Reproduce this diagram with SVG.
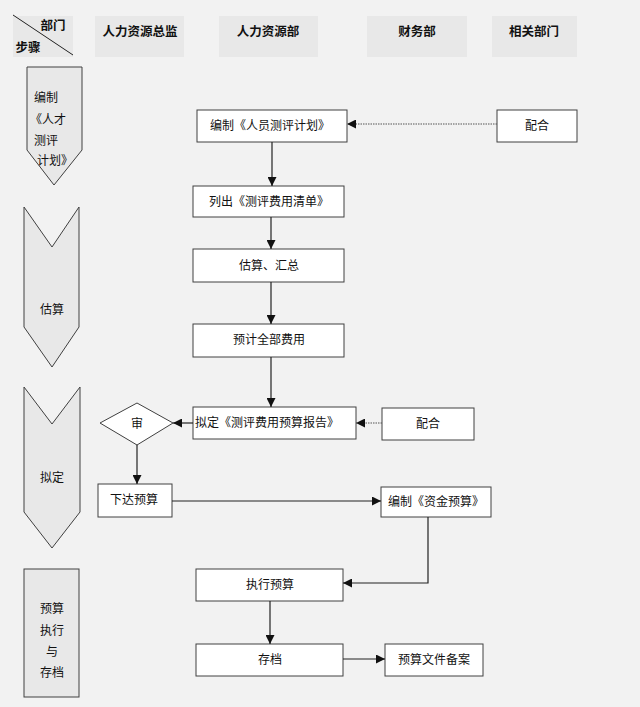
<svg xmlns="http://www.w3.org/2000/svg" width="640" height="707" viewBox="0 0 640 707">
<style>
text{font-family:"Liberation Sans","Noto Sans CJK SC",sans-serif;font-size:12px;fill:#111;}
.h{font-weight:bold;font-size:12.5px;}
.c{text-anchor:middle;dominant-baseline:central;}
.hdr{fill:#e8e8e8;}
.box{fill:#ffffff;stroke:#404040;stroke-width:1;}
.lane{fill:#e8e8e8;stroke:#404040;stroke-width:1;}
.ln{fill:none;stroke:#222;stroke-width:1.2;}
.dot{fill:none;stroke:#555;stroke-width:1;stroke-dasharray:1.5 1;}
</style>
<defs>
<marker id="ah" viewBox="0 0 10 10" refX="10" refY="5" markerWidth="9" markerHeight="9" markerUnits="userSpaceOnUse" orient="auto">
<path d="M0,0 L10,5 L0,10 Z" fill="#111"/>
</marker>
</defs>
<rect width="640" height="707" fill="#f2f2f2"/>

<g id="header">
<rect class="hdr" x="13" y="16" width="60" height="41"/>
<line x1="13" y1="15" x2="73" y2="55" stroke="#222" stroke-width="1"/>
<text class="h c" x="53" y="26">部门</text>
<text class="h c" x="28" y="48">步骤</text>
<rect class="hdr" x="95" y="16" width="89" height="41"/>
<text class="h c" x="140" y="32">人力资源总监</text>
<rect class="hdr" x="219" y="16" width="99" height="41"/>
<text class="h c" x="268" y="32">人力资源部</text>
<rect class="hdr" x="367" y="16" width="100" height="41"/>
<text class="h c" x="417" y="32">财务部</text>
<rect class="hdr" x="492" y="16" width="85" height="41"/>
<text class="h c" x="534" y="32">相关部门</text>
</g>

<g id="step1">
<path class="lane" d="M27,67 L82,67 L82,150 L54,185 L27,150 Z"/>
<text x="34" y="102">编制</text>
<text x="30" y="124">《人才</text>
<text x="34" y="145">测评</text>
<text x="37" y="165">计划》</text>
</g>
<g id="step2">
<path class="lane" d="M24,207 L52,247 L79,207 L79,327 L52,367 L24,327 Z"/>
<text class="c" x="52" y="310">估算</text>
</g>
<g id="step3">
<path class="lane" d="M24,387 L52,424 L80,387 L80,512 L52,548 L24,512 Z"/>
<text class="c" x="52" y="478">拟定</text>
</g>
<g id="step4">
<rect class="lane" x="24" y="569" width="55" height="128"/>
<text class="c" x="52" y="609">预算</text>
<text class="c" x="52" y="631">执行</text>
<text class="c" x="52" y="652">与</text>
<text class="c" x="52" y="673">存档</text>
</g>

<g id="n_plan"><rect class="box" x="197" y="110" width="150" height="32"/><text class="c" x="270" y="126">编制《人员测评计划》</text></g>
<g id="n_list"><rect class="box" x="193" y="186" width="151" height="31"/><text class="c" x="269" y="202">列出《测评费用清单》</text></g>
<g id="n_est"><rect class="box" x="193" y="249" width="151" height="33"/><text class="c" x="269" y="266">估算、汇总</text></g>
<g id="n_total"><rect class="box" x="193" y="324" width="151" height="33"/><text class="c" x="269" y="340">预计全部费用</text></g>
<g id="n_report"><rect class="box" x="193" y="407" width="163" height="32"/><text class="c" x="267" y="423">拟定《测评费用预算报告》</text></g>
<g id="n_coop1"><rect class="box" x="497" y="110" width="80" height="32"/><text class="c" x="537" y="126">配合</text></g>
<g id="n_coop2"><rect class="box" x="382" y="408" width="92" height="32"/><text class="c" x="428" y="424">配合</text></g>
<g id="n_review"><path class="box" d="M100,423 L137,403 L173,423 L137,445 Z"/><text class="c" x="137" y="424">审</text></g>
<g id="n_issue"><rect class="box" x="98" y="484" width="74" height="33"/><text class="c" x="134" y="500">下达预算</text></g>
<g id="n_fund"><rect class="box" x="381" y="487" width="110" height="30"/><text class="c" x="436" y="502">编制《资金预算》</text></g>
<g id="n_exec"><rect class="box" x="196" y="569" width="147" height="32"/><text class="c" x="270" y="585">执行预算</text></g>
<g id="n_archive"><rect class="box" x="196" y="644" width="147" height="32"/><text class="c" x="270" y="660">存档</text></g>
<g id="n_file"><rect class="box" x="385" y="644" width="98" height="32"/><text class="c" x="434" y="660">预算文件备案</text></g>

<g id="connectors">
<line class="ln" x1="272" y1="142" x2="272" y2="186" marker-end="url(#ah)"/>
<line class="ln" x1="271" y1="217" x2="271" y2="249" marker-end="url(#ah)"/>
<line class="ln" x1="271" y1="282" x2="271" y2="324" marker-end="url(#ah)"/>
<line class="ln" x1="271" y1="357" x2="271" y2="407" marker-end="url(#ah)"/>
<line class="dot" x1="497" y1="124" x2="347" y2="124" marker-end="url(#ah)"/>
<line class="dot" x1="382" y1="423" x2="356" y2="423" marker-end="url(#ah)"/>
<line class="ln" x1="193" y1="423" x2="173" y2="423" marker-end="url(#ah)"/>
<line class="ln" x1="137" y1="445" x2="137" y2="484" marker-end="url(#ah)"/>
<line class="ln" x1="172" y1="501" x2="381" y2="501" marker-end="url(#ah)"/>
<polyline class="ln" points="428,517 428,583 343,583" marker-end="url(#ah)"/>
<line class="ln" x1="270" y1="601" x2="270" y2="644" marker-end="url(#ah)"/>
<line class="ln" x1="343" y1="659" x2="385" y2="659" marker-end="url(#ah)"/>
</g>
</svg>
